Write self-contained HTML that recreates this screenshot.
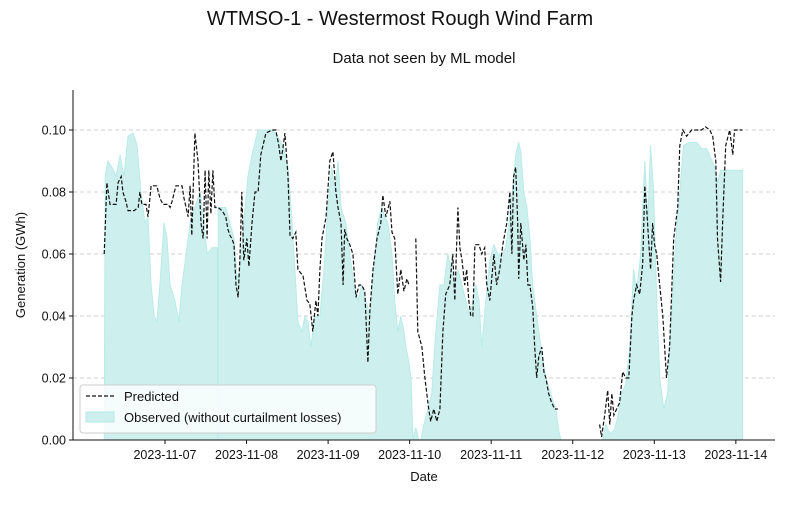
<!DOCTYPE html>
<html><head><meta charset="utf-8"><style>
body{margin:0;background:#fff;}
svg text{font-family:"Liberation Sans","DejaVu Sans",sans-serif;}
</style></head><body>
<svg id="chart" width="800" height="500" xmlns="http://www.w3.org/2000/svg">
<text x="400" y="25" text-anchor="middle" font-size="20" fill="#111">WTMSO-1 - Westermost Rough Wind Farm</text>
<text x="424" y="63" text-anchor="middle" font-size="15" fill="#111">Data not seen by ML model</text>
<g id="grid"></g>
<g id="obs"></g>
<g id="pred"></g>
<g id="axes"></g>
<text x="424" y="481" text-anchor="middle" font-size="13" fill="#111">Date</text>
<text transform="translate(25,265) rotate(-90)" text-anchor="middle" font-size="13" fill="#111">Generation (GWh)</text>
<g>
<rect x="80" y="385" width="296" height="48" rx="3" fill="#fff" fill-opacity="0.8" stroke="#ccc"/>
<line x1="86" y1="396" x2="114" y2="396" stroke="#111" stroke-width="1.3" stroke-dasharray="4,2"/>
<text x="124" y="401" font-size="13" fill="#111">Predicted</text>
<rect x="86" y="412" width="28" height="10" fill="#cdf0ee" stroke="#b3e9e7"/>
<text x="124" y="422" font-size="13" fill="#111">Observed (without curtailment losses)</text>
</g>
</svg>
<script>
const yTicks=[0,0.02,0.04,0.06,0.08,0.10];
const yTickLabels=["0.00","0.02","0.04","0.06","0.08","0.10"];
const xTickHours=[0,24,48,72,96,120,144,168];
const xTickLabels=["2023-11-07","2023-11-08","2023-11-09","2023-11-10","2023-11-11","2023-11-12","2023-11-13","2023-11-14"];
const obsHours=[-17.9,-17.6,-16.8,-15.6,-14.4,-13.2,-12.1,-10.9,-9.4,-8.2,-7.1,-5.9,-5,-4.1,-3.2,-2.4,-1.5,-0.3,0.6,1.5,2.9,4.1,5,6.2,7.4,8.8,10.3,11.5,12.4,13.8,15,15.4,15.6,15.7,16.2,16.8,17.9,19.1,20.3,21.2,22.1,23.2,24.4,25.6,27.4,29.4,31.5,33.2,35,36.2,37.4,38.5,39.1,40.3,41.2,42.1,42.9,44.1,45.6,46.8,47.9,49.1,50,50.9,51.8,53.2,54.4,55.6,56.8,57.9,59.1,60.3,61.5,62.6,63.8,64.7,65.6,66.8,67.6,68.5,69.4,70.3,70.9,71.8,72.4,73,73.8,74.7,75.3,76.2,77.4,78.5,79.7,80.9,82.1,83.2,84.4,85.3,86.2,87.4,88.5,89.7,90.6,91.5,92.4,93.2,94.4,95.6,96.8,97.9,99.1,100.3,101.2,102.4,103.2,104.1,104.7,105.6,106.5,107.4,108.2,109.4,110.6,112.1,113.5,115,115.9,116.5,120,128.8,129.7,130.9,132.1,133.2,134.4,135.6,136.8,137.9,138.8,140,141.2,142.1,142.9,143.8,144.7,145.6,146.8,147.9,149.1,150.3,151.5,152.6,154.4,156.5,157.9,159.4,160.6,161.8,162.6,163.5,170,170.01];
const obsValues=[0,0.085,0.09,0.088,0.085,0.092,0.085,0.098,0.099,0.095,0.08,0.07,0.072,0.05,0.04,0.038,0.05,0.07,0.065,0.05,0.045,0.038,0.05,0.06,0.07,0.075,0.08,0.07,0.06,0.062,0.062,0.062,0,0.075,0.075,0.075,0.075,0.07,0.065,0.052,0.055,0.07,0.085,0.092,0.1,0.1,0.1,0.098,0.094,0.088,0.07,0.05,0.038,0.035,0.04,0.038,0.03,0.04,0.04,0.055,0.075,0.088,0.08,0.09,0.075,0.07,0.06,0.05,0.045,0.05,0.045,0.04,0.055,0.07,0.075,0.072,0.07,0.06,0.045,0.035,0.04,0.035,0.03,0.025,0.02,0,0.004,0,0,0.005,0.01,0.015,0.035,0.05,0.05,0.06,0.055,0.05,0.055,0.05,0.045,0.04,0.045,0.05,0.045,0.03,0.045,0.058,0.063,0.06,0.06,0.062,0.07,0.082,0.092,0.096,0.093,0.08,0.075,0.065,0.05,0.04,0.03,0.02,0.015,0.01,0.003,0,null,0,0.005,0.002,0.003,0.007,0.015,0.018,0.03,0.055,0.048,0.06,0.09,0.07,0.095,0.08,0.045,0.02,0.01,0.015,0.04,0.065,0.08,0.095,0.096,0.096,0.094,0.094,0.091,0.088,0.083,0.087,0.087,0];
const predHours=[-17.9,-17.1,-16.2,-14.4,-13.8,-12.9,-12.4,-11.5,-10.9,-9.1,-7.9,-7.4,-6.8,-5.6,-5,-4.1,-2.4,-1.5,-0.6,0.9,1.5,2.1,3.2,5,5.6,6.2,6.8,7.4,7.9,8.8,9.7,10.6,11.2,11.8,12.4,12.9,13.5,14.1,14.7,15.6,16.8,17.9,18.5,19.1,19.7,20.3,20.9,21.5,22.1,22.6,23.2,24.1,24.7,25.6,26.5,27.4,28.2,29.7,31.5,32.6,33.5,34.1,34.7,35.3,36.2,36.8,37.6,38.5,39.1,40.6,41.8,42.6,43.5,44.4,45,45.6,46.2,47.4,48.5,49.4,50.3,50.9,51.8,52.4,52.9,53.5,54.4,55.3,56.2,57.1,57.9,58.8,59.7,60.3,61.2,62.4,63.5,64.1,65,66.2,66.8,67.6,68.5,69.4,70.3,71.2,71.8,72.8,73.8,74.4,75.6,76.5,77.6,78.2,79.1,80,80.9,81.8,82.6,83.8,84.7,85.3,86.2,86.8,87.4,88.2,88.8,89.4,90,90.6,91.2,92.4,93.2,94.1,94.7,95.6,96.8,97.6,98.5,99.4,100.6,101.5,102.1,102.6,103.2,103.8,104.1,104.7,105.6,106.2,106.8,107.4,108.2,108.8,109.4,110,110.9,111.5,112.1,112.9,113.8,114.7,115.6,120,127.9,128.5,129.4,130.3,130.9,131.5,132.1,132.9,133.8,134.7,135.6,136.5,137.4,137.9,138.8,139.7,140.6,141.2,141.8,142.4,142.9,143.5,144.1,144.7,145.6,146.5,147.6,148.5,149.7,150.9,151.5,152.4,153.5,155,156.5,157.9,159.1,160.3,161.2,162.1,162.6,163.5,164.1,165,166.2,167.1,167.6,168.5,169.4,170];
const predValues=[0.06,0.083,0.076,0.076,0.083,0.085,0.08,0.077,0.074,0.074,0.075,0.08,0.076,0.076,0.072,0.082,0.082,0.078,0.076,0.076,0.075,0.077,0.082,0.082,0.078,0.075,0.072,0.082,0.066,0.099,0.09,0.07,0.065,0.087,0.065,0.087,0.073,0.087,0.075,0.075,0.074,0.072,0.068,0.066,0.065,0.063,0.05,0.046,0.06,0.08,0.058,0.065,0.056,0.07,0.08,0.08,0.092,0.099,0.1,0.1,0.095,0.09,0.094,0.099,0.085,0.066,0.065,0.067,0.055,0.053,0.045,0.044,0.035,0.045,0.04,0.055,0.065,0.072,0.09,0.093,0.08,0.075,0.07,0.05,0.068,0.065,0.063,0.06,0.046,0.05,0.05,0.048,0.025,0.042,0.055,0.065,0.07,0.079,0.072,0.077,0.067,0.065,0.047,0.055,0.048,0.052,0.05,null,0.065,0.035,0.03,0.02,0.01,0.006,0.01,0.006,0.01,0.035,0.047,0.05,0.06,0.045,0.075,0.062,0.058,0.05,0.055,0.045,0.04,0.04,0.063,0.063,0.06,0.062,0.05,0.045,0.06,0.05,0.055,0.063,0.07,0.08,0.06,0.085,0.088,0.07,0.052,0.07,0.058,0.063,0.05,0.05,0.043,0.03,0.02,0.027,0.03,0.022,0.02,0.015,0.012,0.01,0.01,null,0.005,0.001,0.008,0.016,0.005,0.015,0.008,0.01,0.012,0.022,0.02,0.02,0.04,0.045,0.05,0.047,0.057,0.082,0.074,0.063,0.055,0.07,0.063,0.06,0.05,0.04,0.02,0.03,0.065,0.075,0.095,0.1,0.098,0.1,0.1,0.1,0.101,0.1,0.098,0.09,0.065,0.051,0.07,0.095,0.1,0.092,0.1,0.1,0.1,0.1];

const NS="http://www.w3.org/2000/svg";
const L=73,R=775,T=90,B=440;
const xScale=h=>165+h*(81.55/24);
const yScale=v=>B-v*3100;
function mk(tag,attrs,parent){const e=document.createElementNS(NS,tag);for(const k in attrs)e.setAttribute(k,attrs[k]);parent.appendChild(e);return e;}
const grid=document.getElementById('grid'),axes=document.getElementById('axes');
yTicks.forEach((v,i)=>{
  const y=yScale(v);
  if(v>0){const g=mk('line',{x1:L,x2:R,y1:y,y2:y,stroke:'#d0d0d0','stroke-dasharray':'4,3','stroke-width':1},grid);
  
  }
  const t=mk('line',{x1:L-4,x2:L,y1:y,y2:y,stroke:'#111'},axes);
  
  
  const lb=mk('text',{x:L-7,y:y+4.5,'text-anchor':'end','font-size':12.5,fill:'#111'},axes);
  
  
  lb.textContent=yTickLabels[i];
});
xTickHours.forEach((h,i)=>{
  const x=xScale(h);
  const t=mk('line',{x1:x,x2:x,y1:B,y2:B+4,stroke:'#111'},axes);
  
  
  const lb=mk('text',{x:x,y:B+19,'text-anchor':'middle','font-size':12.5,fill:'#111'},axes);
  
  
  lb.textContent=xTickLabels[i];
});
const sp1=mk('line',{x1:L,x2:L,y1:T,y2:B,stroke:'#111'},axes);


const sp2=mk('line',{x1:L,x2:R,y1:B,y2:B,stroke:'#111'},axes);


function segments(hs,vs){const segs=[];let cur=[];hs.forEach((h,i)=>{if(vs[i]===null){if(cur.length)segs.push(cur);cur=[];}else cur.push([xScale(h),yScale(vs[i])]);});if(cur.length)segs.push(cur);return segs;}
const obsG=document.getElementById('obs');
segments(obsHours,obsValues).forEach(s=>{
  const d='M'+s[0][0]+','+B+' '+s.map(p=>'L'+p[0].toFixed(1)+','+p[1].toFixed(1)).join(' ')+' L'+s[s.length-1][0]+','+B+'Z';
  const p=mk('path',{d:d,fill:'#cdf0ee',stroke:'#b8ebe8','stroke-width':1},obsG);
  
  
});
const predG=document.getElementById('pred');
segments(predHours,predValues).forEach(s=>{
  const d=s.map((p,i)=>(i?'L':'M')+p[0].toFixed(1)+','+p[1].toFixed(1)).join(' ');
  const p=mk('path',{d:d,fill:'none',stroke:'#111','stroke-width':1.2,'stroke-dasharray':'4,2'},predG);
  
  
});
</script>
</body></html>
